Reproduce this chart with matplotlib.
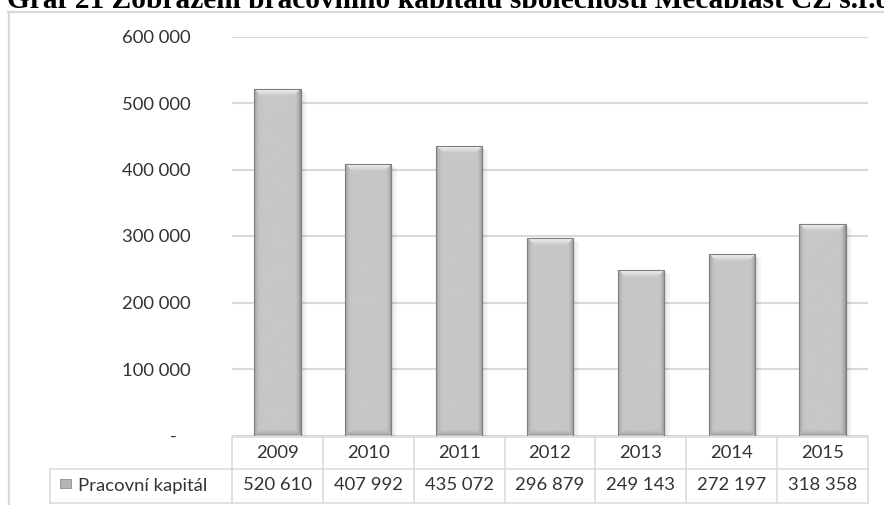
import numpy as np
import matplotlib
matplotlib.use("Agg")
import matplotlib.pyplot as plt
from matplotlib.patches import Rectangle
from matplotlib.lines import Line2D
import matplotlib.transforms as mtransforms

# ---- data ----
title = "Graf 21 Zobrazení pracovního kapitálu společnosti Mecaplast CZ s.r.o."
series_name = "Pracovní kapitál"
years = ["2009", "2010", "2011", "2012", "2013", "2014", "2015"]
values = [520610, 407992, 435072, 296879, 249143, 272197, 318358]
y_ticks = [0, 100000, 200000, 300000, 400000, 500000, 600000]
y_max = 600000


def fmt_num(v):
    return f"{v:,}".replace(",", " ")


y_tick_labels = ["-   " if v == 0 else fmt_num(v) for v in y_ticks]
value_labels = [fmt_num(v) for v in values]

# ---- layout (pixels) ----
W, H, DPI = 884, 505, 100
AX_L, AX_R, AX_T, AX_B = 232, 868, 36.5, 435.5
TB_TOP, TB_MID, TB_BOT = 437, 468.5, 502.5
LEG_L = 50

LINE_C = "#d9d9d9"
TEXT_C = "#333333"
FONT = ["Lato", "DejaVu Sans"]
FS = 13.3


def fx(px):
    return px / W


def fy(py):
    return 1 - py / H


fig = plt.figure(figsize=(W / DPI, H / DPI), dpi=DPI)
fig.patch.set_facecolor("white")

# title line sits behind the chart sheet, which hides its lower part
fig.text(fx(7), fy(7.5), title, family=["Liberation Serif", "DejaVu Serif"],
         weight="bold", fontsize=21.2, color="black", va="baseline", ha="left",
         zorder=-2)
fig.add_artist(Rectangle((0, 0), 1, fy(8), transform=fig.transFigure,
                         facecolor="white", edgecolor="none", zorder=-1))

# chart frame (left and top edges visible)
fig.add_artist(Line2D([fx(8.5), fx(8.5)], [fy(12), 0], transform=fig.transFigure,
                      color=LINE_C, lw=1.6, zorder=-0.5))
fig.add_artist(Line2D([fx(8), 1], [fy(12), fy(12)], transform=fig.transFigure,
                      color=LINE_C, lw=1.6, zorder=-0.5))

ax = fig.add_axes([fx(AX_L), fy(AX_B), fx(AX_R - AX_L), (AX_B - AX_T) / H])
ax.set_facecolor("none")
for s in ax.spines.values():
    s.set_visible(False)

n = len(years)
x = np.arange(n)
px_x = (AX_R - AX_L) / n          # pixels per category
px_y = (AX_B - AX_T) / y_max      # pixels per unit value
bar_w = 0.51


def bevel_image(wpx, hpx, b_side=7.0, b_top=8.0, b_bot=6.0):
    s = 3
    nx = max(int(round(wpx * s)), 2)
    ny = max(int(round(hpx * s)), 2)
    X, Y = np.meshgrid((np.arange(nx) + 0.5) / s, (np.arange(ny) + 0.5) / s)
    d = np.stack([X / b_side, (wpx - X) / b_side, Y / b_top, (hpx - Y) / b_bot])
    idx = np.argmin(d, axis=0)
    t = np.clip(np.min(d, axis=0), 0, 1)
    body = 0.78
    edge = np.array([0.60, 0.55, 0.98, 0.63])[idx]
    power = np.array([2.2, 2.2, 1.0, 1.5])[idx]
    img = body + (edge - body) * (1 - t) ** power
    return img


# soft shadow
for k, a in enumerate([0.05, 0.04, 0.03]):
    for xi, v in zip(x, values):
        dx = (2 + k) / px_x
        ax.add_patch(Rectangle((xi - bar_w / 2 + dx, -(2 + k) / px_y), bar_w + k / px_x,
                               v, facecolor="black", edgecolor="none", alpha=a, zorder=2.5))

bars = ax.bar(x, values, width=bar_w, color="#c6c6c6", edgecolor="none", zorder=3)
for rect in bars:
    x0, w, h = rect.get_x(), rect.get_width(), rect.get_height()
    img = bevel_image(w * px_x, h * px_y)
    im = ax.imshow(img, extent=(x0, x0 + w, 0, h), cmap="gray", vmin=0, vmax=1,
                   interpolation="bilinear", aspect="auto", zorder=3.5)
    im.set_clip_path(rect)
ax.bar(x, values, width=bar_w, fill=False, edgecolor="#7f7f7f", linewidth=0.8, zorder=4)

ax.set_xlim(-0.5, n - 0.5)
ax.set_ylim(0, y_max)
ax.set_yticks(y_ticks)
ax.set_yticklabels(y_tick_labels, family=FONT, fontsize=FS, color=TEXT_C)
ax.set_xticks([])
ax.tick_params(axis="y", length=0, pad=(AX_L - 191) * 72 / DPI)
ax.yaxis.grid(True, color=LINE_C, lw=1.5)
ax.set_axisbelow(True)

# data table under the plot
blend = mtransforms.blended_transform_factory(ax.transData, fig.transFigure)
edges = np.arange(n + 1) - 0.5
for xe in edges:
    fig.add_artist(Line2D([xe, xe], [fy(TB_TOP), fy(TB_BOT)], transform=blend,
                          color=LINE_C, lw=1.1))
fig.add_artist(Line2D([edges[0], edges[-1]], [fy(TB_TOP), fy(TB_TOP)], transform=blend,
                      color=LINE_C, lw=1.1))
for yy in (TB_MID, TB_BOT):
    fig.add_artist(Line2D([fx(LEG_L), fx(AX_R)], [fy(yy), fy(yy)], transform=fig.transFigure,
                          color=LINE_C, lw=1.1))
fig.add_artist(Line2D([fx(LEG_L), fx(LEG_L)], [fy(TB_MID), fy(TB_BOT)], transform=fig.transFigure,
                      color=LINE_C, lw=1.1))

for xi, yr, lab in zip(x, years, value_labels):
    fig.text(xi, fy((TB_TOP + TB_MID) / 2), yr, transform=blend, ha="center", va="center",
             family=FONT, fontsize=FS, color=TEXT_C)
    fig.text(xi, fy((TB_MID + TB_BOT) / 2), lab, transform=blend, ha="center", va="center",
             family=FONT, fontsize=FS, color=TEXT_C)

# legend key
fig.add_artist(Rectangle((fx(60), fy(488)), fx(11), 9 / H, transform=fig.transFigure,
                         facecolor="#b4b4b4", edgecolor="#8c8c8c", lw=0.6))
fig.text(fx(78), fy((TB_MID + TB_BOT) / 2), series_name, ha="left", va="center",
         family=FONT, fontsize=FS, color=TEXT_C)

fig.savefig("out.png", dpi=DPI, facecolor="white")
